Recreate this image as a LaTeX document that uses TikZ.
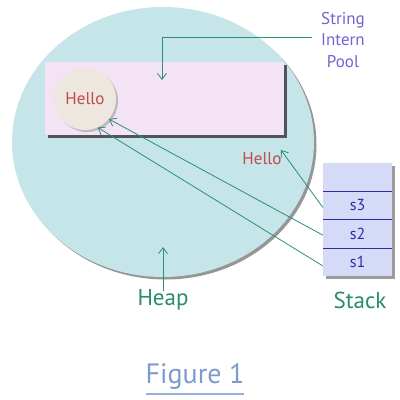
\documentclass[tikz,border=0pt]{standalone}
\usepackage{fontspec}
\setmainfont{PT Sans}
\usetikzlibrary{shapes.geometric,shadows,arrows.meta}
\definecolor{heapfill}{HTML}{C6E5E8}
\definecolor{poolfill}{HTML}{F3E3F4}
\definecolor{circfill}{HTML}{EDE7DF}
\definecolor{hellored}{HTML}{BE4B4E}
\definecolor{arrowgreen}{HTML}{2E8E72}
\definecolor{labelgreen}{HTML}{2A8C6C}
\definecolor{poolblue}{HTML}{7264D2}
\definecolor{stackfill}{HTML}{D5DBF7}
\definecolor{stackline}{HTML}{2C2CA8}
\definecolor{figblue}{HTML}{7C9BCE}
\begin{document}
\begin{tikzpicture}[x=1pt,y=-1pt,
  ptr/.style={draw=arrowgreen, line width=0.8pt, -{Straight Barb[length=6pt,width=9pt]}},
  hellotxt/.style={text=hellored, font=\fontsize{17}{20}\selectfont, inner sep=0pt},
  greenlbl/.style={text=labelgreen, font=\fontsize{23}{26}\selectfont, inner sep=0pt},
  celltxt/.style={text=stackline, font=\fontsize{16}{18}\selectfont, inner sep=0pt},
  divider/.style={draw=stackline, line width=0.8pt}]
\useasboundingbox (0,0) rectangle (400,400);
\fill[white] (0,0) rectangle (400,400);
% heap ellipse
\node[ellipse, fill=heapfill, minimum width=302pt, minimum height=270pt, inner sep=0pt,
  drop shadow={shadow xshift=2.5pt, shadow yshift=-2.5pt, opacity=0.55, fill=black!75}] (heap) at (163,142) {};
% pool rectangle
\node[rectangle, fill=poolfill, minimum width=239pt, minimum height=73pt, inner sep=0pt,
  drop shadow={shadow xshift=3pt, shadow yshift=-3pt, opacity=0.8, fill=black!80}] (pool) at (164.5,98.5) {};
% Hello circle
\node[circle, fill=circfill, minimum size=62pt, inner sep=0pt,
  drop shadow={shadow xshift=2pt, shadow yshift=-2pt, opacity=0.35, fill=black!60}] (hello1) at (85,99) {};
\node[hellotxt] (hello1txt) at (85,99) {Hello};
\node[hellotxt] (hello2) at (262,159) {Hello};
% stack
\node[rectangle, fill=stackfill, minimum width=69pt, minimum height=113pt, inner sep=0pt,
  drop shadow={shadow xshift=2.5pt, shadow yshift=-2.5pt, opacity=0.55, fill=black!70}] (stack) at (357.5,219.5) {};
\node[minimum width=69pt, minimum height=28.25pt, inner sep=0pt] (s0) at (357.5,177.1) {};
\node[celltxt, minimum width=69pt, minimum height=28.25pt] (s3) at (357.5,205.4) {s3};
\node[celltxt, minimum width=69pt, minimum height=28.25pt] (s2) at (357.5,233.6) {s2};
\node[celltxt, minimum width=69pt, minimum height=28.25pt] (s1) at (357.5,261.9) {s1};
\draw[divider] (s0.south west) -- (s0.south east);
\draw[divider] (s3.south west) -- (s3.south east);
\draw[divider] (s2.south west) -- (s2.south east);
% labels
\node[text=poolblue, font=\fontsize{17}{21.5}\selectfont, align=center, inner sep=0pt] (poollbl) at (343,40) {String\\Intern\\Pool};
\node[greenlbl] (heaplbl) at (163,300) {Heap};
\node[greenlbl] (stacklbl) at (360,300) {Stack};
\node[text=figblue, font=\fontsize{28}{32}\selectfont, inner sep=0pt] (fig) at (195,376) {Figure 1};
\draw[draw=figblue!80, line width=1.4pt] ([yshift=-5pt]fig.south west) -- ([yshift=-5pt]fig.south east);
% connectors
\coordinate (pooltail) at (312,37);
\coordinate (poolhead) at (162,80);
\draw[ptr] (pooltail) -| (poolhead);
\coordinate (heaphead) at (163,247);
\draw[ptr] ([yshift=-2pt]heaplbl.north) -- (heaphead);
\draw[ptr] ([yshift=-2pt]s3.west) -- ([xshift=19pt,yshift=9pt]hello2.center);
\draw[ptr] ([yshift=-1.5pt]s2.west) -- (hello1.-40);
\draw[ptr] ([yshift=-4pt]s1.west) -- (hello1.-66);
\end{tikzpicture}
\end{document}
